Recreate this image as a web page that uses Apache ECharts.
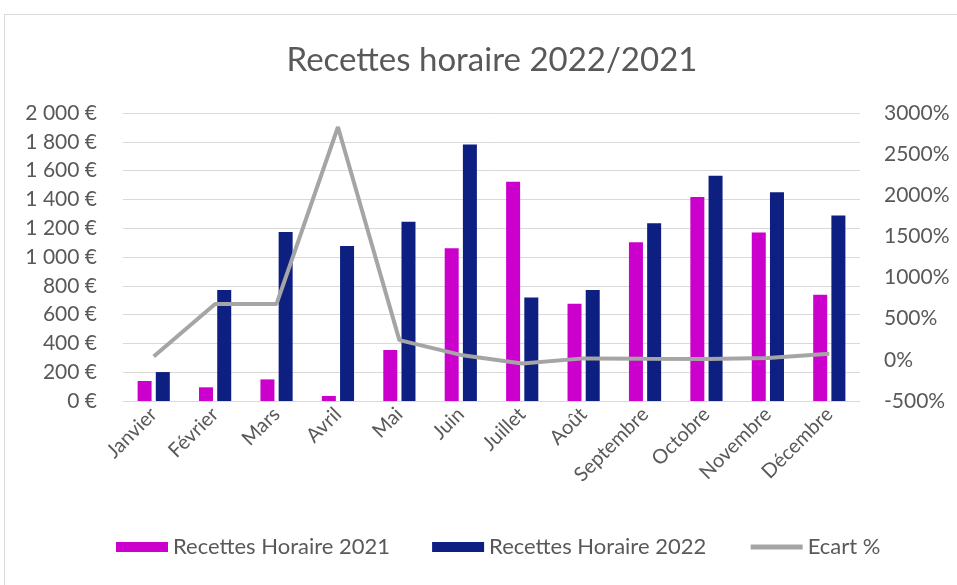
<!DOCTYPE html>
<html>
<head>
<meta charset="utf-8">
<script src="https://cdn.jsdelivr.net/npm/echarts@6/dist/echarts.min.js"></script>
<style>
  html, body { margin: 0; padding: 0; background: #ffffff; }
  #frame { position: absolute; left: 4px; top: 14px; width: 980px; height: 600px; border: 1px solid #d9d9d9; }
  #main { position: absolute; left: 0; top: 0; width: 957px; height: 585px; }
</style>
</head>
<body>
<div id="frame"></div>
<div id="main"></div>
<script>
'use strict';

// données
var mois = ['Janvier', 'Février', 'Mars', 'Avril', 'Mai', 'Juin', 'Juillet', 'Août', 'Septembre', 'Octobre', 'Novembre', 'Décembre'];
var recettes2021 = [139, 95, 150, 35, 354, 1060, 1523, 676, 1102, 1417, 1171, 738];
var recettes2022 = [201, 771, 1174, 1076, 1245, 1782, 718, 771, 1234, 1565, 1449, 1289];
var ecart = [42, 680, 680, 2830, 240, 60, -45, 18, 12, 10, 24, 75];

var police = 'Lato, "Open Sans", sans-serif';
var gris = '#595959';

// 2000 -> "2 000 €"
function formatEuro(v) {
  var s = String(v).replace(/\B(?=(\d{3})+(?!\d))/g, ' ');
  return s + ' €';
}

function formatPct(v) {
  return v + '%';
}

var chart = echarts.init(document.getElementById('main'), null, { renderer: 'canvas' });

var option = {
  backgroundColor: 'transparent',
  textStyle: { fontFamily: police },
  title: {
    text: 'Recettes horaire 2022/2021',
    left: 487,
    top: 39,
    textAlign: 'center',
    textStyle: { color: gris, fontSize: 33, fontWeight: 'normal', fontFamily: police }
  },
  legend: {
    bottom: 22,
    left: 111,
    itemWidth: 52,
    itemHeight: 10,
    itemGap: 42,
    textStyle: { color: gris, fontSize: 22, fontFamily: police },
    data: [
      { name: 'Recettes Horaire 2021', icon: 'rect' },
      { name: 'Recettes Horaire 2022', icon: 'rect' },
      { name: 'Ecart %', itemStyle: { opacity: 0 }, lineStyle: { width: 5, color: '#a5a5a5' } }
    ]
  },
  grid: { left: 123, right: 97, top: 113, bottom: 184 },
  xAxis: {
    type: 'category',
    data: mois,
    axisLine: { lineStyle: { color: '#d9d9d9' } },
    axisTick: { show: false },
    axisLabel: { rotate: 45, color: gris, fontSize: 20, margin: 10, fontFamily: police }
  },
  yAxis: [
    {
      type: 'value',
      min: 0,
      max: 2000,
      interval: 200,
      axisLine: { show: false },
      axisTick: { show: false },
      splitLine: { lineStyle: { color: '#d9d9d9', width: 1 } },
      axisLabel: { color: gris, fontSize: 21, margin: 26, formatter: formatEuro, fontFamily: police }
    },
    {
      type: 'value',
      min: -500,
      max: 3000,
      interval: 500,
      axisLine: { show: false },
      axisTick: { show: false },
      splitLine: { show: false },
      axisLabel: { color: gris, fontSize: 21, margin: 24, formatter: formatPct, fontFamily: police }
    }
  ],
  series: [
    {
      name: 'Recettes Horaire 2021',
      type: 'bar',
      data: recettes2021,
      barWidth: 14,
      barGap: '30%',
      itemStyle: { color: '#cc00cc' }
    },
    {
      name: 'Recettes Horaire 2022',
      type: 'bar',
      data: recettes2022,
      barWidth: 14,
      barGap: '30%',
      itemStyle: { color: '#0d1f80' }
    },
    {
      name: 'Ecart %',
      type: 'line',
      yAxisIndex: 1,
      data: ecart,
      symbol: 'none',
      lineStyle: { color: '#a5a5a5', width: 4 },
      itemStyle: { color: '#a5a5a5' }
    }
  ]
};

chart.setOption(option);
</script>
</body>
</html>
